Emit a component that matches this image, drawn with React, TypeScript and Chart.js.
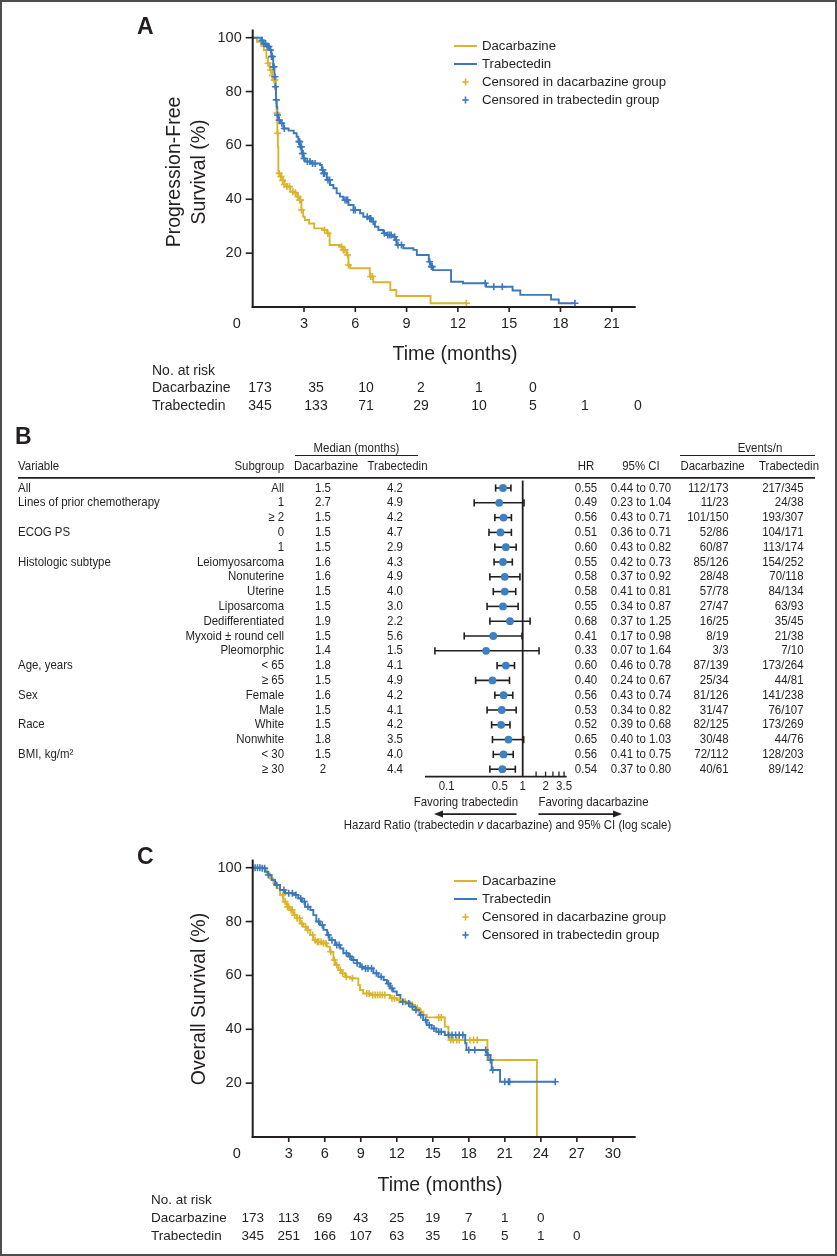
import React, { useEffect, useRef } from "react";
import { Chart, registerables } from "chart.js";
Chart.register(...registerables);

const YELLOW = "#DBB42C";
const BLUE = "#3A79BD";
const DOT = "#3D80C4";
const INK = "#231F20";
const FONT = '"Liberation Sans", Arial, Helvetica, sans-serif';

// ---------------- Panel A: progression-free survival ----------------
const PFS_DAC_T = [0, 0.25, 0.5, 0.65, 0.8, 0.9, 1.0, 1.15, 1.25, 1.32, 1.36, 1.4, 1.44, 1.47, 1.5, 1.65, 1.75, 1.85, 2.0, 2.2, 2.4, 2.6, 2.75, 2.85, 2.95, 3.05, 3.3, 3.6, 4.1, 4.35, 4.5, 5.1, 5.3, 5.5, 5.6, 5.7, 6.85, 7.05, 8.05, 8.4, 10.4, 12.5];
const PFS_DAC_S = [100, 98.5, 97, 95.4, 92.5, 90.5, 88, 86, 84.3, 81, 76.9, 72, 64.5, 59.5, 49.6, 48.4, 47, 45.5, 44.7, 42.8, 42.4, 41, 39.7, 36, 33.5, 32.3, 31, 29.2, 28.6, 27.4, 23, 22.4, 21.2, 19.3, 15.6, 14.4, 11.3, 9.2, 6.3, 4.1, 1.4, 1.4];
const PFS_TRAB_T = [0, 0.5, 0.62, 0.82, 1.0, 1.1, 1.2, 1.27, 1.33, 1.36, 1.4, 1.44, 1.5, 1.6, 1.8, 2.1, 2.4, 2.57, 2.67, 2.77, 2.87, 2.96, 3.06, 3.45, 3.94, 4.04, 4.13, 4.33, 4.52, 4.72, 4.91, 5.1, 5.3, 5.6, 5.9, 6.28, 6.47, 6.76, 6.96, 7.15, 7.35, 7.64, 7.84, 8.13, 8.32, 8.42, 8.81, 9.4, 9.6, 10.3, 10.4, 10.55, 11.6, 12.3, 13.65, 15.2, 15.65, 17.45, 17.9, 18.85];
const PFS_TRAB_S = [100, 99, 97.8, 96.7, 95.4, 93, 89.2, 85.5, 81.8, 76.9, 74.4, 71.3, 69.4, 68.2, 66.3, 65.5, 64.5, 63.2, 61.4, 59.5, 57, 55.2, 54, 53.3, 52.7, 50.9, 49.6, 47.2, 45.3, 44.1, 42.2, 41, 39.7, 37.9, 36, 34.8, 33.5, 32.9, 31.7, 29.8, 28.6, 27.4, 26.7, 26.1, 24.9, 23, 21.8, 21.2, 19.3, 16.8, 15, 13.7, 9.4, 8.8, 7.5, 6.1, 4.5, 2.8, 1.4, 1.4];
const PFS_DAC_CENS = [0.9, 1.05, 1.15, 1.25, 1.3, 1.42, 1.46, 1.55, 1.65, 1.75, 1.85, 2.0, 2.15, 2.35, 2.5, 2.65, 2.75, 2.8, 2.85, 4.2, 4.4, 5.2, 5.3, 5.4, 5.55, 5.6, 6.9, 7.0, 12.5];
const PFS_TRAB_CENS = [0.55, 0.65, 0.75, 0.85, 0.95, 1.05, 1.1, 1.15, 1.2, 1.25, 1.3, 1.33, 1.38, 1.45, 1.55, 1.7, 1.85, 2.7, 2.75, 2.8, 2.85, 2.9, 2.95, 3.0, 3.2, 3.35, 3.5, 3.65, 4.1, 4.15, 4.2, 4.4, 4.5, 5.4, 5.5, 5.55, 5.9, 6.0, 6.7, 6.85, 6.9, 7.05, 7.7, 7.9, 8.0, 8.1, 8.3, 8.4, 8.5, 8.7, 10.35, 10.45, 10.5, 13.6, 14.1, 14.6, 18.85];
const PFS_X_TICKS = [3, 6, 9, 12, 15, 18, 21];
const PFS_RISK_DAC = [173, 35, 10, 2, 1, 0];
const PFS_RISK_TRAB = [345, 133, 71, 29, 10, 5, 1, 0];

// ---------------- Panel C: overall survival ----------------
const OS_DAC_T = [0, 0.9, 1.17, 1.44, 1.72, 2.0, 2.28, 2.56, 2.83, 3.1, 3.4, 3.67, 3.94, 4.2, 4.5, 4.8, 5.05, 5.3, 5.75, 6.17, 6.44, 6.72, 6.86, 7.14, 7.4, 7.7, 8.1, 8.8, 8.94, 9.2, 9.8, 11.44, 12.0, 12.55, 13.1, 13.5, 13.9, 14.2, 14.5, 16.0, 16.3, 16.4, 19.55, 23.67];
const OS_DAC_S = [100, 99.8, 97.9, 96, 94.2, 92.3, 89.9, 87.4, 85.5, 84.3, 82.4, 81.2, 79.3, 78.1, 76.9, 75, 73.1, 72.5, 71.9, 70.7, 68.8, 65.7, 63.9, 62, 60.8, 59.5, 58.9, 56.4, 54.6, 53.3, 52.7, 51.5, 50.9, 50.2, 49, 47.8, 46.5, 45.3, 44.4, 41, 38.5, 36, 28.6, 0];
const OS_TRAB_T = [0, 0.75, 1.03, 1.3, 1.58, 1.86, 2.28, 2.69, 3.5, 3.8, 4.1, 4.36, 4.8, 5.05, 5.3, 5.6, 5.9, 6.2, 6.4, 6.86, 7.3, 7.55, 7.97, 8.25, 8.67, 8.94, 9.2, 10.05, 10.47, 10.9, 11.17, 11.44, 11.7, 12.0, 12.3, 12.8, 13.1, 13.5, 13.9, 14.2, 14.5, 14.9, 15.3, 16.0, 17.7, 17.8, 19.5, 19.8, 19.9, 20.6, 25.2];
const OS_TRAB_S = [100, 99.8, 98.5, 97.3, 95.4, 93.6, 91.7, 90.5, 89.9, 88.6, 87.4, 85.5, 84.3, 82.4, 80, 78.7, 76.9, 75, 73.1, 71.3, 70, 68.2, 67, 65.7, 64.5, 63.2, 62.6, 60.8, 59.5, 58.3, 57, 55.2, 54, 52.7, 50.2, 49.6, 48.4, 47.2, 45.3, 43.4, 41.6, 40.3, 39.1, 37.9, 34.8, 32.3, 30.4, 28.6, 24.9, 20.5, 20.5];
const OS_DAC_CENS = [2.5, 2.7, 2.9, 3.0, 3.2, 3.3, 3.5, 3.7, 3.9, 4.1, 4.4, 4.6, 5.0, 5.2, 5.4, 5.5, 5.7, 5.9, 6.1, 6.5, 6.8, 7.0, 7.3, 7.5, 7.8, 8.3, 9.5, 9.7, 10.0, 10.2, 10.4, 10.6, 10.8, 11.0, 11.6, 11.8, 12.2, 12.7, 13.3, 13.7, 14.0, 15.5, 15.7, 16.5, 16.7, 17.0, 17.2, 18.1, 18.4, 18.7];
const OS_TRAB_CENS = [0.2, 0.4, 0.6, 0.8, 1.0, 1.3, 2.0, 2.6, 3.0, 3.3, 3.6, 4.0, 4.3, 4.6, 5.5, 5.8, 6.3, 6.6, 7.0, 7.2, 7.8, 8.1, 8.4, 8.7, 9.1, 9.4, 9.6, 9.9, 10.3, 10.7, 11.3, 11.6, 12.5, 13.0, 13.3, 13.6, 14.0, 14.4, 14.7, 15.1, 15.5, 15.7, 16.3, 16.6, 16.9, 17.2, 17.5, 18.0, 18.5, 19.4, 19.6, 19.8, 20.0, 21.0, 21.3, 21.4, 25.2];
const OS_X_TICKS = [3, 6, 9, 12, 15, 18, 21, 24, 27, 30];
const OS_RISK_TIMES = [0, 3, 6, 9, 12, 15, 18, 21, 24, 27];
const OS_RISK_DAC = [173, 113, 69, 43, 25, 19, 7, 1, 0];
const OS_RISK_TRAB = [345, 251, 166, 107, 63, 35, 16, 5, 1, 0];

const Y_TICKS = [20, 40, 60, 80, 100];
const LEGEND_LABELS = ["Dacarbazine", "Trabectedin", "Censored in dacarbazine group", "Censored in trabectedin group"];

// ---------------- Panel B: forest plot ----------------
const VARIABLES = ["All", "Lines of prior chemotherapy", "", "ECOG PS", "", "Histologic subtype", "", "", "", "", "", "", "Age, years", "", "Sex", "", "Race", "", "BMI, kg/m\u00B2", ""];
const SUBGROUPS = ["All", "1", "\u2265 2", "0", "1", "Leiomyosarcoma", "Nonuterine", "Uterine", "Liposarcoma", "Dedifferentiated", "Myxoid \u00B1 round cell", "Pleomorphic", "< 65", "\u2265 65", "Female", "Male", "White", "Nonwhite", "< 30", "\u2265 30"];
const MEDIAN_DAC = ["1.5", "2.7", "1.5", "1.5", "1.5", "1.6", "1.6", "1.5", "1.5", "1.9", "1.5", "1.4", "1.8", "1.5", "1.6", "1.5", "1.5", "1.8", "1.5", "2"];
const MEDIAN_TRAB = ["4.2", "4.9", "4.2", "4.7", "2.9", "4.3", "4.9", "4.0", "3.0", "2.2", "5.6", "1.5", "4.1", "4.9", "4.2", "4.1", "4.2", "3.5", "4.0", "4.4"];
const HR = [0.55, 0.49, 0.56, 0.51, 0.60, 0.55, 0.58, 0.58, 0.55, 0.68, 0.41, 0.33, 0.60, 0.40, 0.56, 0.53, 0.52, 0.65, 0.56, 0.54];
const CI_LO = [0.44, 0.23, 0.43, 0.36, 0.43, 0.42, 0.37, 0.41, 0.34, 0.37, 0.17, 0.07, 0.46, 0.24, 0.43, 0.34, 0.39, 0.40, 0.41, 0.37];
const CI_HI = [0.70, 1.04, 0.71, 0.71, 0.82, 0.73, 0.92, 0.81, 0.87, 1.25, 0.98, 1.64, 0.78, 0.67, 0.74, 0.82, 0.68, 1.03, 0.75, 0.80];
const EVENTS_DAC = ["112/173", "11/23", "101/150", "52/86", "60/87", "85/126", "28/48", "57/78", "27/47", "16/25", "8/19", "3/3", "87/139", "25/34", "81/126", "31/47", "82/125", "30/48", "72/112", "40/61"];
const EVENTS_TRAB = ["217/345", "24/38", "193/307", "104/171", "113/174", "154/252", "70/118", "84/134", "63/93", "35/45", "21/38", "7/10", "173/264", "44/81", "141/238", "76/107", "173/269", "44/76", "128/203", "89/142"];
const FOREST_TICK_LABELS = [0.1, 0.5, 1, 2, 3.5];
const FOREST_MINOR_TICKS = [1.5, 2, 2.5, 3, 3.5];

// ---------------- helpers ----------------
function text(ctx: CanvasRenderingContext2D, s: string, x: number, y: number, size: number,
  align: CanvasTextAlign = "left", sx = 1, bold = false, italic = false, color = INK) {
  ctx.save();
  ctx.font = `${italic ? "italic " : ""}${bold ? "bold " : ""}${size}px ${FONT}`;
  ctx.fillStyle = color;
  ctx.textAlign = align;
  ctx.textBaseline = "middle";
  ctx.translate(x, y);
  ctx.scale(sx, 1);
  ctx.fillText(s, 0, 0);
  ctx.restore();
}
function measure(ctx: CanvasRenderingContext2D, s: string, size: number, sx = 1, italic = false) {
  ctx.save();
  ctx.font = `${italic ? "italic " : ""}${size}px ${FONT}`;
  const w = ctx.measureText(s).width * sx;
  ctx.restore();
  return w;
}
function stepAt(T: number[], S: number[], t: number) {
  let s = S[0];
  for (let i = 0; i < T.length; i++) {
    if (T[i] <= t) s = S[i];
    else break;
  }
  return s;
}
function line(ctx: CanvasRenderingContext2D, x1: number, y1: number, x2: number, y2: number, w = 1.5, color = INK) {
  ctx.save();
  ctx.strokeStyle = color;
  ctx.lineWidth = w;
  ctx.beginPath();
  ctx.moveTo(x1, y1);
  ctx.lineTo(x2, y2);
  ctx.stroke();
  ctx.restore();
}
function cross(ctx: CanvasRenderingContext2D, x: number, y: number, color: string) {
  line(ctx, x - 3.2, y, x + 3.2, y, 1.6, color);
  line(ctx, x, y - 3.5, x, y + 3.5, 1.6, color);
}

interface KMCfg {
  dacT: number[]; dacS: number[]; trabT: number[]; trabS: number[];
  dacCens: number[]; trabCens: number[];
  xMax: number; xTicks: number[]; height: number; padTop: number; padBottom: number;
  label: string; labelY: number;
  yTitle: string[]; yTitleX: number[]; yTitleY: number;
  xTitleX: number; xTitleY: number;
  legendY: number[];
  riskHeaderY: number; riskRowY: number[]; riskLabelX: number;
  riskDac: number[]; riskTrab: number[];
  riskX: (chart: any) => number[];
  riskSize: number;
}

const LEFT = 252.7;
const RIGHT = 635.7;

function makeKM(canvas: HTMLCanvasElement, c: KMCfg) {
  const toPts = (T: number[], S: number[]) => T.map((t, i) => ({ x: t, y: S[i] }));
  const cens = (C: number[], T: number[], S: number[]) => C.map((t) => ({ x: t, y: stepAt(T, S, t) }));
  const plugin = {
    id: "kmdecor",
    afterDraw(chart: any) {
      const { ctx, chartArea: ca, scales } = chart;
      const xs = scales.x, ys = scales.y;
      // axes
      line(ctx, ca.left, ca.top, ca.left, ca.bottom + 1, 2);
      line(ctx, ca.left - 1, ca.bottom, ca.right, ca.bottom, 2);
      Y_TICKS.forEach((v) => {
        const py = ys.getPixelForValue(v);
        line(ctx, ca.left - 7, py, ca.left, py, 1.6);
        text(ctx, String(v), ca.left - 11, py, 14.5, "right");
      });
      c.xTicks.forEach((v) => {
        const px = xs.getPixelForValue(v);
        line(ctx, px, ca.bottom, px, ca.bottom + 5, 1.6);
        text(ctx, String(v), px, ca.bottom + 17, 14.5, "center");
      });
      text(ctx, "0", ca.left - 16, ca.bottom + 17, 14.5, "center");
      // panel label
      text(ctx, c.label, 137, c.labelY, 23, "left", 1, true);
      // y title
      c.yTitle.forEach((s, i) => {
        ctx.save();
        ctx.translate(c.yTitleX[i], c.yTitleY);
        ctx.rotate(-Math.PI / 2);
        text(ctx, s, 0, 0, 19.5, "center");
        ctx.restore();
      });
      text(ctx, "Time (months)", c.xTitleX, c.xTitleY, 19.5, "center");
      // legend
      const cols = [YELLOW, BLUE, YELLOW, BLUE];
      LEGEND_LABELS.forEach((s, i) => {
        const y = c.legendY[i];
        if (i < 2) line(ctx, 454, y, 477, y, 2, cols[i]);
        else cross(ctx, 465.5, y, cols[i]);
        text(ctx, s, 482, y, 13.2, "left");
      });
      // risk table
      const rx = c.riskX(chart);
      text(ctx, "No. at risk", c.riskLabelX, c.riskHeaderY, c.riskSize, "left");
      text(ctx, "Dacarbazine", c.riskLabelX, c.riskRowY[0], c.riskSize, "left");
      text(ctx, "Trabectedin", c.riskLabelX, c.riskRowY[1], c.riskSize, "left");
      c.riskDac.forEach((n, i) => text(ctx, String(n), rx[i], c.riskRowY[0], c.riskSize, "center"));
      c.riskTrab.forEach((n, i) => text(ctx, String(n), rx[i], c.riskRowY[1], c.riskSize, "center"));
    },
  };
  const xPerPx = c.xMax / (RIGHT - LEFT);
  return new Chart(canvas, {
    type: "line",
    data: {
      datasets: [
        { type: "scatter", data: cens(c.trabCens, c.trabT, c.trabS), pointStyle: "cross", pointRadius: 3.5, pointBorderWidth: 1.6, borderColor: BLUE, pointBorderColor: BLUE, showLine: false } as any,
        { type: "scatter", data: cens(c.dacCens, c.dacT, c.dacS), pointStyle: "cross", pointRadius: 3.5, pointBorderWidth: 1.6, borderColor: YELLOW, pointBorderColor: YELLOW, showLine: false } as any,
        { type: "line", data: toPts(c.trabT, c.trabS), stepped: true, borderColor: BLUE, borderWidth: 1.9, pointRadius: 0, fill: false } as any,
        { type: "line", data: toPts(c.dacT, c.dacS), stepped: true, borderColor: YELLOW, borderWidth: 1.9, pointRadius: 0, fill: false } as any,
      ],
    },
    options: {
      animation: false,
      responsive: false,
      devicePixelRatio: 1,
      events: [],
      layout: { padding: { left: LEFT, right: 837 - RIGHT, top: c.padTop, bottom: c.padBottom } },
      plugins: { legend: { display: false }, tooltip: { enabled: false } },
      scales: {
        x: { type: "linear", min: 0, max: c.xMax, display: false },
        y: { type: "linear", min: 0, max: 103, display: false },
      },
    } as any,
    plugins: [plugin],
  });
}

// Forest plot layout
const BS = 13; // font size
const BSX = 0.88; // condensed factor

function makeForest(canvas: HTMLCanvasElement) {
  const plugin = {
    id: "forest",
    beforeDatasetsDraw(chart: any) {
      const { ctx, chartArea: ca, scales } = chart;
      const xs = scales.x, ys = scales.y;
      const x1 = xs.getPixelForValue(1);
      line(ctx, x1, ca.top, x1, ca.bottom, 1.8);
      HR.forEach((_, i) => {
        const py = ys.getPixelForValue(i);
        const a = xs.getPixelForValue(CI_LO[i]);
        const b = xs.getPixelForValue(CI_HI[i]);
        line(ctx, a, py, b, py, 1.6);
        line(ctx, a, py - 3.6, a, py + 3.6, 1.6);
        line(ctx, b, py - 3.6, b, py + 3.6, 1.6);
      });
    },
    afterDraw(chart: any) {
      const { ctx, chartArea: ca, scales } = chart;
      const xs = scales.x, ys = scales.y;
      // axis
      line(ctx, ca.left, ca.bottom, ca.right, ca.bottom, 1.8);
      FOREST_MINOR_TICKS.forEach((v) => {
        const px = xs.getPixelForValue(v);
        line(ctx, px, ca.bottom - 5, px, ca.bottom, 1.3);
      });
      FOREST_TICK_LABELS.forEach((v) => {
        text(ctx, String(v), xs.getPixelForValue(v), ca.bottom + 10, BS, "center", BSX);
      });
      const fy = ca.bottom + 25.5;
      text(ctx, "Favoring trabectedin", 518, fy, BS, "right", BSX);
      text(ctx, "Favoring dacarbazine", 538.5, fy, BS, "left", BSX);
      // arrows
      const ay = ca.bottom + 37.5;
      line(ctx, 516.5, ay, 441, ay, 1.6);
      line(ctx, 538.5, ay, 615, ay, 1.6);
      ctx.save();
      ctx.fillStyle = INK;
      ctx.beginPath(); ctx.moveTo(434, ay); ctx.lineTo(443, ay - 3.5); ctx.lineTo(443, ay + 3.5); ctx.closePath(); ctx.fill();
      ctx.beginPath(); ctx.moveTo(622, ay); ctx.lineTo(613, ay - 3.5); ctx.lineTo(613, ay + 3.5); ctx.closePath(); ctx.fill();
      ctx.restore();
      // caption
      const p1 = "Hazard Ratio (trabectedin ", p2 = "v", p3 = " dacarbazine) and 95% CI (log scale)";
      const w1 = measure(ctx, p1, BS, BSX), w2 = measure(ctx, p2, BS, BSX, true), w3 = measure(ctx, p3, BS, BSX);
      let cx = 507.5 - (w1 + w2 + w3) / 2;
      const cy = ca.bottom + 48.5;
      text(ctx, p1, cx, cy, BS, "left", BSX); cx += w1;
      text(ctx, p2, cx, cy, BS, "left", BSX, false, true); cx += w2;
      text(ctx, p3, cx, cy, BS, "left", BSX);

      // panel label
      text(ctx, "B", 15, 18, 23, "left", 1, true);
      // headers
      text(ctx, "Median (months)", 356.5, 28, BS, "center", BSX);
      line(ctx, 295, 35.5, 418, 35.5, 1.2);
      text(ctx, "Events/n", 760, 28, BS, "center", BSX);
      line(ctx, 680, 35.5, 815, 35.5, 1.2);
      const hy = 46.5;
      text(ctx, "Variable", 18, hy, BS, "left", BSX);
      text(ctx, "Subgroup", 284, hy, BS, "right", BSX);
      text(ctx, "Dacarbazine", 326, hy, BS, "center", BSX);
      text(ctx, "Trabectedin", 397.5, hy, BS, "center", BSX);
      text(ctx, "HR", 586, hy, BS, "center", BSX);
      text(ctx, "95% CI", 641, hy, BS, "center", BSX);
      text(ctx, "Dacarbazine", 712.5, hy, BS, "center", BSX);
      text(ctx, "Trabectedin", 789, hy, BS, "center", BSX);
      line(ctx, 18, 57.8, 815, 57.8, 1.8);
      // rows
      SUBGROUPS.forEach((sg, i) => {
        const py = ys.getPixelForValue(i);
        if (VARIABLES[i]) text(ctx, VARIABLES[i], 18, py, BS, "left", BSX);
        text(ctx, sg, 284, py, BS, "right", BSX);
        text(ctx, MEDIAN_DAC[i], 323, py, BS, "center", BSX);
        text(ctx, MEDIAN_TRAB[i], 395, py, BS, "center", BSX);
        text(ctx, HR[i].toFixed(2), 586, py, BS, "center", BSX);
        text(ctx, `${CI_LO[i].toFixed(2)} to ${CI_HI[i].toFixed(2)}`, 641, py, BS, "center", BSX);
        text(ctx, EVENTS_DAC[i], 728.5, py, BS, "right", BSX);
        text(ctx, EVENTS_TRAB[i], 803.5, py, BS, "right", BSX);
      });
    },
  };
  // log axis: 1 at x=522.7, 76 px per decade, from x=425 to x=566.7
  const fLeft = 425, fRight = 566.7, one = 522.7, dec = 76;
  const xmin = Math.pow(10, (fLeft - one) / dec);
  const xmax = Math.pow(10, (fRight - one) / dec);
  return new Chart(canvas, {
    type: "scatter",
    data: {
      datasets: [
        { data: HR.map((h, i) => ({ x: h, y: i })), pointRadius: 3.9, pointBackgroundColor: DOT, backgroundColor: DOT, pointBorderWidth: 0, borderWidth: 0 } as any,
      ],
    },
    options: {
      animation: false,
      responsive: false,
      devicePixelRatio: 1,
      events: [],
      layout: { padding: { left: fLeft, right: 837 - fRight, top: 60.6, bottom: 420 - 356.6 } },
      plugins: { legend: { display: false }, tooltip: { enabled: false } },
      scales: {
        x: { type: "logarithmic", min: xmin, max: xmax, bounds: "data", display: false },
        y: { type: "linear", min: -0.5, max: 19.5, reverse: true, display: false },
      },
    } as any,
    plugins: [plugin],
  });
}

const PFS_RISK_X = [260, 316, 366, 421, 479, 533, 585, 638];

const PFS_CFG: KMCfg = {
  dacT: PFS_DAC_T, dacS: PFS_DAC_S, trabT: PFS_TRAB_T, trabS: PFS_TRAB_S,
  dacCens: PFS_DAC_CENS, trabCens: PFS_TRAB_CENS,
  xMax: 22.4, xTicks: PFS_X_TICKS, height: 420, padTop: 29.6, padBottom: 420 - 307,
  label: "A", labelY: 28,
  yTitle: ["Progression-Free", "Survival (%)"], yTitleX: [175, 200], yTitleY: 172,
  xTitleX: 455, xTitleY: 355,
  legendY: [46, 64, 82, 100],
  riskHeaderY: 371, riskRowY: [388.5, 406.5], riskLabelX: 152,
  riskDac: PFS_RISK_DAC, riskTrab: PFS_RISK_TRAB,
  riskX: () => PFS_RISK_X,
  riskSize: 14,
};

const OS_CFG: KMCfg = {
  dacT: OS_DAC_T, dacS: OS_DAC_S, trabT: OS_TRAB_T, trabS: OS_TRAB_S,
  dacCens: OS_DAC_CENS, trabCens: OS_TRAB_CENS,
  xMax: 31.9, xTicks: OS_X_TICKS, height: 416, padTop: 19.6, padBottom: 416 - 297,
  label: "C", labelY: 18,
  yTitle: ["Overall Survival (%)"], yTitleX: [200], yTitleY: 159,
  xTitleX: 440, xTitleY: 346,
  legendY: [41, 59, 77, 95],
  riskHeaderY: 360.7, riskRowY: [378.7, 396.7], riskLabelX: 151,
  riskDac: OS_RISK_DAC, riskTrab: OS_RISK_TRAB,
  riskX: (chart: any) => OS_RISK_TIMES.map((t) => chart.scales.x.getPixelForValue(t)),
  riskSize: 13.5,
};

export default function App() {
  const aRef = useRef<HTMLCanvasElement>(null);
  const bRef = useRef<HTMLCanvasElement>(null);
  const cRef = useRef<HTMLCanvasElement>(null);
  useEffect(() => {
    const charts = [
      makeKM(aRef.current!, PFS_CFG),
      makeForest(bRef.current!),
      makeKM(cRef.current!, OS_CFG),
    ];
    return () => charts.forEach((ch) => ch.destroy());
  }, []);
  const cs = (top: number, h: number): React.CSSProperties => ({ position: "absolute", left: 0, top, width: 837, height: h, display: "block" });
  return (
    <div style={{ position: "absolute", left: 0, top: 0, width: 837, height: 1256, background: "#fff", overflow: "hidden" }}>
      <canvas ref={aRef} width={837} height={420} style={cs(0, 420)} />
      <canvas ref={bRef} width={837} height={420} style={cs(420, 420)} />
      <canvas ref={cRef} width={837} height={416} style={cs(840, 416)} />
      <div style={{ position: "absolute", left: 0, top: 0, width: 837, height: 1256, border: "2px solid #4d4d4d", boxSizing: "border-box", pointerEvents: "none" }} />
    </div>
  );
}
